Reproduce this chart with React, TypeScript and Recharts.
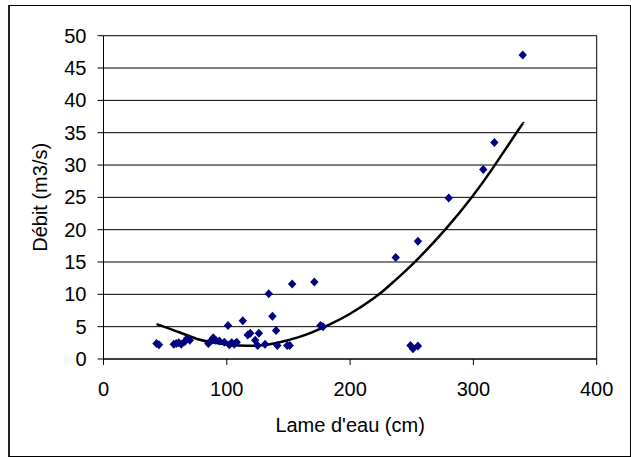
import React from 'react';
import { ComposedChart, Scatter, Line, XAxis, YAxis, CartesianGrid, ReferenceLine } from 'recharts';

const lameEau = [43, 45, 57, 59, 61, 63, 66, 68, 70, 85, 87, 89, 91, 94, 98, 101, 102, 104, 106, 108, 113, 117, 119, 123, 125, 126, 131, 134, 137, 140, 141, 149, 151, 153, 171, 176, 178, 237, 249, 251, 255, 255, 280, 308, 317, 340];
const debit = [2.4, 2.2, 2.3, 2.4, 2.5, 2.3, 2.7, 3.2, 2.9, 2.4, 2.8, 3.3, 2.9, 2.8, 2.6, 5.2, 2.2, 2.5, 2.3, 2.6, 5.9, 3.7, 4.0, 2.9, 2.1, 4.0, 2.3, 10.1, 6.6, 4.4, 2.1, 2.1, 2.1, 11.6, 11.9, 5.2, 5.0, 15.7, 2.1, 1.6, 18.2, 2.0, 24.9, 29.3, 33.5, 47.0];

const trendX = [43, 62, 76, 89, 103, 116, 130, 143, 157, 170, 184, 200, 220, 235, 253, 278, 299, 316, 336, 341];
const trendY = [5.4, 4.1, 3.1, 2.55, 2.2, 2.05, 2.15, 2.6, 3.3, 4.2, 5.4, 7.0, 9.5, 11.9, 15.1, 20.2, 25.1, 29.6, 35.3, 36.5];

const xTicks = [0, 100, 200, 300, 400];
const yTicks = [0, 5, 10, 15, 20, 25, 30, 35, 40, 45, 50];

const points = lameEau.map((x, i) => ({ x, y: debit[i] }));
const trend = trendX.map((x, i) => ({ x, y: trendY[i] }));

const Diamond = (props: any) => {
  const { cx, cy } = props;
  if (cx == null || cy == null) return null;
  const w = 4.2;
  const h = 4.5;
  return (
    <polygon
      points={`${cx},${cy - h} ${cx + w},${cy} ${cx},${cy + h} ${cx - w},${cy}`}
      fill="#000080"
    />
  );
};

const font = '"Liberation Sans", Arial, sans-serif';

export default function App() {
  return (
    <div style={{ position: 'absolute', left: 0, top: 0, width: 631, height: 457, background: '#fff' }}>
      <div
        style={{
          position: 'absolute',
          left: 8,
          top: 5,
          width: 623,
          height: 452,
          boxSizing: 'border-box',
          borderTop: '1px solid #000',
          borderRight: '1px solid #000',
          borderBottom: '1px solid #000',
          borderLeft: '2px solid #222',
        }}
      />
      <div style={{ position: 'absolute', left: 0, top: 0 }}>
        <ComposedChart
          width={631}
          height={457}
          margin={{ top: 35.7, right: 34.3, bottom: 18, left: 43.5 }}
        >
          <CartesianGrid vertical={false} stroke="#000" strokeWidth={1} />
          <XAxis
            dataKey="x"
            type="number"
            domain={[0, 400]}
            ticks={xTicks}
            allowDataOverflow
            height={80}
            tickSize={6}
            tickMargin={17}
            stroke="#000"
            tick={{ fill: '#000', fontSize: 20, fontFamily: font }}
            label={{ value: "Lame d'eau (cm)", position: 'insideBottom', offset: 7, fill: '#000', fontSize: 20, fontFamily: font }}
          />
          <YAxis
            dataKey="y"
            type="number"
            domain={[0, 50]}
            ticks={yTicks}
            allowDataOverflow
            width={60}
            tickSize={6}
            tickMargin={11}
            stroke="#000"
            tick={{ fill: '#000', fontSize: 20, fontFamily: font }}
            label={{ value: 'Débit (m3/s)', angle: -90, position: 'insideLeft', offset: -3.5, fill: '#000', fontSize: 20, fontFamily: font, style: { textAnchor: 'middle' } }}
          />
          <ReferenceLine x={400} stroke="#000" />
          <Scatter data={points} shape={<Diamond />} isAnimationActive={false} />
          <Line
            data={trend}
            dataKey="y"
            type="natural"
            stroke="#000"
            strokeWidth={2.5}
            dot={false}
            activeDot={false}
            isAnimationActive={false}
          />
        </ComposedChart>
      </div>
    </div>
  );
}
